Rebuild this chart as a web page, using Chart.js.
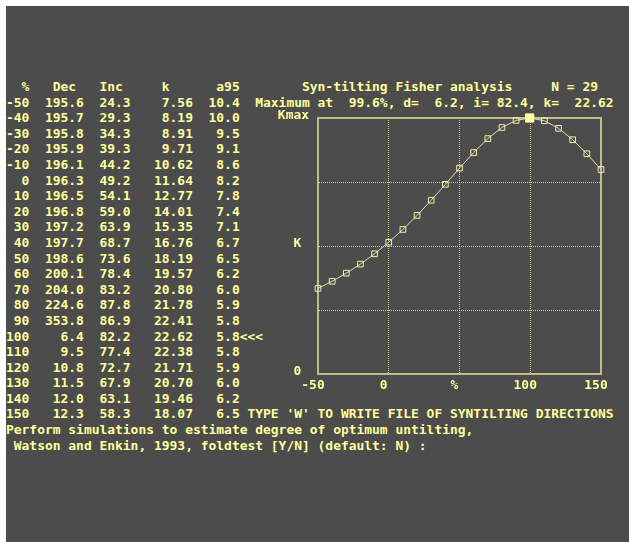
<!DOCTYPE html>
<html>
<head>
<meta charset="utf-8">
<script src="https://cdn.jsdelivr.net/npm/chart.js@4.4.0/dist/chart.umd.min.js"></script>
<style>
html, body { margin: 0; padding: 0; background: #ffffff; overflow: hidden; }
#screen { position: absolute; left: 6px; top: 6px; width: 700px; height: 600px; background: #4c4c4c; }
#text { position: absolute; left: 6px; top: 79px; margin: 0; white-space: pre;
        font: bold 12.95px "DejaVu Sans Mono", monospace; line-height: 15.6px; color: #ffff9e; }
#graphCanvas { position: absolute; left: 0; top: 0; }
</style>
</head>
<body>
<div id="screen"></div>
<pre id="text"></pre>
<canvas id="graphCanvas" width="629" height="542"></canvas>
<script>
// untilting steps and Fisher statistics
var pct = [-50, -40, -30, -20, -10, 0, 10, 20, 30, 40, 50, 60, 70, 80, 90, 100, 110, 120, 130, 140, 150];
var dec = [195.6, 195.7, 195.8, 195.9, 196.1, 196.3, 196.5, 196.8, 197.2, 197.7, 198.6, 200.1, 204.0, 224.6, 353.8, 6.4, 9.5, 10.8, 11.5, 12.0, 12.3];
var inc = [24.3, 29.3, 34.3, 39.3, 44.2, 49.2, 54.1, 59.0, 63.9, 68.7, 73.6, 78.4, 83.2, 87.8, 86.9, 82.2, 77.4, 72.7, 67.9, 63.1, 58.3];
var kap = [7.56, 8.19, 8.91, 9.71, 10.62, 11.64, 12.77, 14.01, 15.35, 16.76, 18.19, 19.57, 20.80, 21.78, 22.41, 22.62, 22.38, 21.71, 20.70, 19.46, 18.07];
var a95 = [10.4, 10.0, 9.5, 9.1, 8.6, 8.2, 7.8, 7.4, 7.1, 6.7, 6.5, 6.2, 6.0, 5.9, 5.8, 5.8, 5.8, 5.9, 6.0, 6.2, 6.5];

var maxPct = 99.6;
var maxK = 22.62;

var xTickValues = [-50, 0, 50, 100, 150];
var xTickLabels = ['-50', '0', '%', '100', '150'];
var yTickLabels = ['0 ', '', 'K ', '', 'Kmax'];

var textColor = '#ffff9e';
var frameColor = '#bebd8c';
var gridColor = '#cfcd95';
var lineColor = '#e4e2a4';

function pad(s, n) {
    s = String(s);
    while (s.length < n) s = ' ' + s;
    return s;
}

function buildText() {
    var lines = [];
    lines.push('  %   Dec   Inc     k      a95        Syn-tilting Fisher analysis     N = 29');
    for (var i = 0; i < pct.length; i++) {
        var row = pad(pct[i], 3) + pad(dec[i].toFixed(1), 7) + pad(inc[i].toFixed(1), 6) +
                  pad(kap[i].toFixed(2), 8) + pad(a95[i].toFixed(1), 6);
        if (i == 0) row += '  Maximum at  99.6%, d=  6.2, i= 82.4, k=  22.62';
        if (pct[i] == 100) row += '<<<';
        if (i == pct.length - 1) row += " TYPE 'W' TO WRITE FILE OF SYNTILTING DIRECTIONS";
        lines.push(row);
    }
    lines.push('Perform simulations to estimate degree of optimum untilting,');
    lines.push(' Watson and Enkin, 1993, foldtest [Y/N] (default: N) :');
    document.getElementById('text').textContent = lines.join('\n');
}

function showGraph() {
    var font = { family: '"DejaVu Sans Mono", monospace', size: 12.95, weight: 'bold' };
    var points = [];
    for (var i = 0; i < pct.length; i++) points.push({ x: pct[i], y: kap[i] });

    var hiddenEdge = function (ctx) {
        var n = ctx.scale && ctx.scale.ticks ? ctx.scale.ticks.length - 1 : -1;
        return (ctx.index === 0 || ctx.index === n) ? 'rgba(0,0,0,0)' : gridColor;
    };
    var noBox = function (s) { if (s.isHorizontal()) s.height = 0; else s.width = 0; };

    new Chart(document.getElementById('graphCanvas'), {
        type: 'line',
        data: {
            datasets: [
                {
                    data: [{ x: maxPct, y: maxK }],
                    showLine: false,
                    pointStyle: 'rect',
                    pointRadius: 5.8,
                    pointBorderWidth: 1,
                    pointBorderColor: textColor,
                    pointBackgroundColor: textColor,
                    clip: false,
                    order: 0
                },
                {
                    data: points,
                    borderColor: lineColor,
                    borderWidth: 1,
                    pointStyle: 'rect',
                    pointRadius: 4,
                    pointBorderWidth: 1,
                    pointBorderColor: '#f2f0ac',
                    pointBackgroundColor: 'rgba(0,0,0,0)',
                    tension: 0,
                    clip: false,
                    order: 1
                }
            ]
        },
        options: {
            responsive: false,
            animation: false,
            devicePixelRatio: 1,
            layout: { padding: { left: 278, top: 118, right: 28, bottom: 138 } },
            plugins: { legend: { display: false }, tooltip: { enabled: false } },
            scales: {
                x: {
                    type: 'linear', min: -50, max: 150,
                    afterFit: function (s) { s.height = 30; },
                    afterBuildTicks: function (s) { s.ticks = xTickValues.map(function (v) { return { value: v }; }); },
                    ticks: {
                        color: textColor, font: font, padding: 4, labelOffset: -5, maxRotation: 0, autoSkip: false,
                        callback: function (v, i) { return xTickLabels[i]; }
                    },
                    grid: { color: hiddenEdge, lineWidth: 1, drawTicks: false },
                    border: { color: frameColor, width: 2, dash: [1, 1] }
                },
                y: {
                    type: 'linear', min: 0, max: maxK,
                    afterFit: function (s) { s.width = 40; },
                    afterBuildTicks: function (s) {
                        s.ticks = [0, 1, 2, 3, 4].map(function (q) { return { value: maxK * q / 4 }; });
                    },
                    ticks: {
                        color: textColor, font: font, padding: 9, labelOffset: -2, autoSkip: false,
                        callback: function (v, i) { return yTickLabels[i]; }
                    },
                    grid: { color: hiddenEdge, lineWidth: 1, drawTicks: false },
                    border: { color: frameColor, width: 2, dash: [1, 1] }
                },
                xTop: {
                    type: 'linear', position: 'top', min: -50, max: 150,
                    afterFit: noBox,
                    ticks: { display: false },
                    grid: { display: false, drawTicks: false },
                    border: { color: frameColor, width: 2 }
                },
                yRight: {
                    type: 'linear', position: 'right', min: 0, max: maxK,
                    afterFit: noBox,
                    ticks: { display: false },
                    grid: { display: false, drawTicks: false },
                    border: { color: frameColor, width: 2 }
                }
            }
        }
    });
}

buildText();
showGraph();
</script>
</body>
</html>
